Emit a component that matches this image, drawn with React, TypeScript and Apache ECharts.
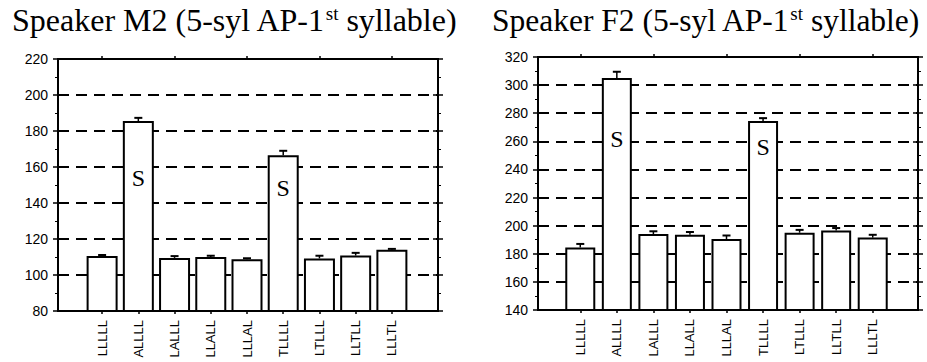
import React, { useEffect, useRef } from "react";
import * as echarts from "echarts";

// Accent patterns of the five-syllable AP
const categories = ["LLLLL", "ALLLL", "LALLL", "LLALL", "LLLAL", "TLLLL", "LTLLL", "LLTLL", "LLLTL"];
// Marker written inside bars of the stressed (S) patterns
const stressMarks = ["", "S", "", "", "", "S", "", "", ""];

// Speaker M2: mean F0 (Hz) of the first syllable and its error
const m2Means = [110.5, 185.5, 109.5, 110, 108.8, 166.5, 109.2, 110.8, 114];
const m2Err = [0.6, 1.8, 1, 0.7, 0.5, 2.5, 1.5, 1.5, 0.5];
const m2Ticks = { min: 80, max: 220, interval: 20 };

// Speaker F2: mean F0 (Hz) of the first syllable and its error
const f2Means = [184.5, 305, 194, 193.5, 190.5, 274.5, 195, 196.5, 191.5];
const f2Err = [2.5, 4.5, 2, 2, 2.5, 2, 2, 1.8, 2];
const f2Ticks = { min: 140, max: 320, interval: 20 };

const SANS = "'Liberation Sans', Arial, Helvetica, sans-serif";
const SERIF = "'Liberation Serif', 'Times New Roman', serif";

type Panel = {
  title: string;
  titleLeft: number;
  titleSize: number;
  means: number[];
  err: number[];
  ticks: { min: number; max: number; interval: number };
  frame: { left: number; top: number; width: number; height: number };
  bars: { left: number; width: number };
  barWidth: number;
  sDistance: number[];
};

const panels: Panel[] = [
  {
    title: "M2",
    titleLeft: 12,
    titleSize: 32,
    means: m2Means,
    err: m2Err,
    ticks: m2Ticks,
    frame: { left: 58, top: 59, width: 380, height: 252 },
    bars: { left: 84, width: 326 },
    barWidth: 31,
    sDistance: [0, 45, 0, 0, 0, 21, 0, 0, 0],
  },
  {
    title: "F2",
    titleLeft: 492,
    titleSize: 31.5,
    means: f2Means,
    err: f2Err,
    ticks: f2Ticks,
    frame: { left: 538, top: 57, width: 380, height: 253 },
    bars: { left: 562, width: 329 },
    barWidth: 30,
    sDistance: [0, 49, 0, 0, 0, 14, 0, 0, 0],
  },
];

// tick-only y axis on one side of the frame
function tickAxis(gridIndex: number, ticks: Panel["ticks"], position: string, inside: boolean, minor: boolean) {
  return {
    type: "value",
    gridIndex,
    position,
    ...ticks,
    axisLine: { show: false },
    axisTick: { show: true, inside, length: 5, lineStyle: { color: "#000", width: 1.5 } },
    minorTick: { show: minor, splitNumber: 2, length: 3, lineStyle: { color: "#000", width: 1 } },
    axisLabel: { show: false },
    splitLine: { show: false },
  };
}

function buildOption() {
  const title: any[] = [];
  const grid: any[] = [];
  const xAxis: any[] = [];
  const yAxis: any[] = [];
  const series: any[] = [];

  panels.forEach((p, k) => {
    const g0 = k * 2;
    const g1 = k * 2 + 1;
    title.push({
      text: `{t|Speaker ${p.title} (5-syl AP-1}{s|st}{t| syllable)}`,
      left: p.titleLeft,
      top: 1,
      padding: 0,
      textStyle: {
        fontWeight: "normal",
        rich: {
          t: { fontFamily: SERIF, fontSize: p.titleSize, fontWeight: "normal", color: "#000", lineHeight: 38 },
          s: { fontFamily: SERIF, fontSize: 19, fontWeight: "normal", color: "#000", padding: [0, 0, 14, 0] },
        },
      },
    });

    // frame grid carrying the value scale and dashed guides
    grid.push({
      ...p.frame,
      show: true,
      borderColor: "#000",
      borderWidth: 2,
      backgroundColor: "transparent",
    });
    // inner grid where the bars sit
    grid.push({ left: p.bars.left, width: p.bars.width, top: p.frame.top, height: p.frame.height });

    xAxis.push({ type: "value", gridIndex: g0, show: false, min: 0, max: 1 });
    xAxis.push({
      type: "category",
      gridIndex: g1,
      data: categories,
      position: "bottom",
      axisLine: { show: false },
      axisTick: { show: true, alignWithLabel: true, length: 3, lineStyle: { color: "#000", width: 1.5 } },
      axisLabel: {
        rotate: 90,
        margin: 9,
        fontFamily: SANS,
        fontSize: 13,
        color: "#000",
        interval: 0,
      },
      splitLine: { show: false },
    });
    xAxis.push({
      type: "category",
      gridIndex: g1,
      data: categories,
      position: "top",
      axisLine: { show: false },
      axisTick: { show: true, alignWithLabel: true, length: 3, lineStyle: { color: "#000", width: 1.5 } },
      axisLabel: { show: false },
      splitLine: { show: false },
    });

    yAxis.push({
      type: "value",
      gridIndex: g0,
      position: "left",
      ...p.ticks,
      axisLine: { show: false },
      axisTick: { show: true, length: 5, lineStyle: { color: "#000", width: 1.5 } },
      minorTick: { show: true, splitNumber: 2, length: 3, lineStyle: { color: "#000", width: 1 } },
      axisLabel: { margin: 10, fontFamily: SANS, fontSize: 14, color: "#000" },
      splitLine: { show: true, lineStyle: { color: "#000", width: 2, type: [11, 7] } },
    });
    yAxis.push(tickAxis(g0, p.ticks, "right", false, true));
    yAxis.push(tickAxis(g0, p.ticks, "left", true, false));
    yAxis.push(tickAxis(g0, p.ticks, "right", true, false));
    yAxis.push({ type: "value", gridIndex: g1, ...p.ticks, show: false, splitLine: { show: false } });

    const xBottom = k * 3 + 1;
    const yBars = k * 5 + 4;

    series.push({
      type: "bar",
      xAxisIndex: xBottom,
      yAxisIndex: yBars,
      barWidth: p.barWidth,
      itemStyle: { color: "#fff", borderColor: "#000", borderWidth: 2 },
      data: p.means.map((v, i) => ({
        value: v,
        label: stressMarks[i]
          ? {
              show: true,
              position: "insideTop",
              distance: p.sDistance[i],
              formatter: stressMarks[i],
              fontFamily: SERIF,
              fontSize: 24,
              color: "#000",
            }
          : { show: false },
      })),
      z: 3,
    });

    series.push({
      type: "custom",
      xAxisIndex: xBottom,
      yAxisIndex: yBars,
      z: 4,
      encode: { x: 0, y: 1 },
      data: p.means.map((v, i) => [i, v, p.err[i]]),
      renderItem: (_params: any, api: any) => {
        const i = api.value(0);
        const v = api.value(1);
        const e = api.value(2);
        const p0 = api.coord([i, v]);
        const p1 = api.coord([i, v + e]);
        return {
          type: "group",
          children: [
            {
              type: "line",
              shape: { x1: p0[0], y1: p0[1], x2: p1[0], y2: p1[1] },
              style: { stroke: "#000", lineWidth: 1.5 },
            },
            {
              type: "line",
              shape: { x1: p1[0] - 4, y1: p1[1], x2: p1[0] + 4, y2: p1[1] },
              style: { stroke: "#000", lineWidth: 2 },
            },
          ],
        };
      },
    });
  });

  return {
    animation: false,
    backgroundColor: "#fff",
    title,
    grid,
    xAxis,
    yAxis,
    series,
  };
}

export default function App() {
  const ref = useRef<HTMLDivElement>(null);

  useEffect(() => {
    if (!ref.current) return;
    const chart = echarts.init(ref.current, undefined, { renderer: "svg" });
    chart.setOption(buildOption() as any);
    return () => chart.dispose();
  }, []);

  return (
    <div
      ref={ref}
      style={{ position: "fixed", left: 0, top: 0, width: 927, height: 362, background: "#fff" }}
    />
  );
}
